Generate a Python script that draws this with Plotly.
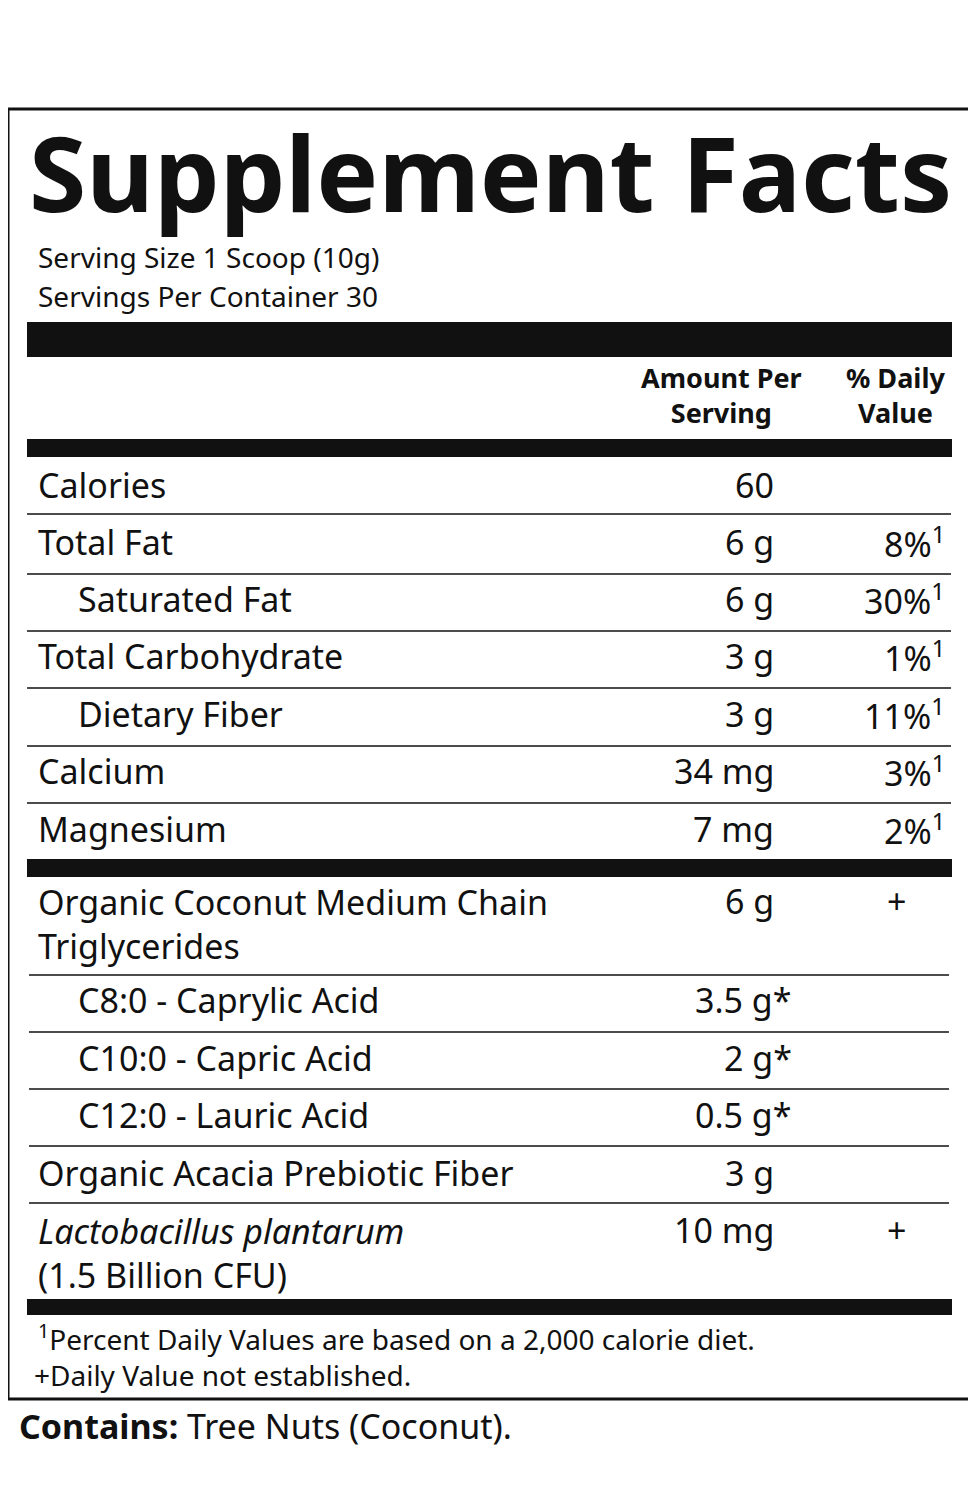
import plotly.graph_objects as go

# ---- data ----
nutrients = ["Calories", "Total Fat", "Saturated Fat", "Total Carbohydrate", "Dietary Fiber", "Calcium", "Magnesium"]
nutrient_amounts = ["60", "6 g", "6 g", "3 g", "3 g", "34 mg", "7 mg"]
nutrient_dv = ["", "8%", "30%", "1%", "11%", "3%", "2%"]
nutrient_indent = [False, False, True, False, True, False, False]

other = ["Organic Coconut Medium Chain<br>Triglycerides", "C8:0 - Caprylic Acid", "C10:0 - Capric Acid",
         "C12:0 - Lauric Acid", "Organic Acacia Prebiotic Fiber", "<i>Lactobacillus plantarum</i><br>(1.5 Billion CFU)"]
other_amounts = ["6 g", "3.5 g*", "2 g*", "0.5 g*", "3 g", "10 mg"]
other_dv = ["+", "", "", "", "", "+"]
other_indent = [False, True, True, True, False, False]

# ---- layout positions ----
F = "Noto Sans"
OFF = 9
nut_y = [486, 543, 600, 657, 715, 772, 830]
nut_lines = [515, 575, 632, 689, 747, 804]
oth_y = [902, 1001, 1059, 1116, 1174, 1231]
oth_lines = [976, 1033, 1090, 1147, 1204]

ann = []
shapes = []

def text(x, y, t, size, xa="left", ya="middle", bold=False, color="#111"):
    if bold:
        t = "<b>" + t + "</b>"
    ann.append(dict(x=x, y=y, text=t, showarrow=False, xanchor=xa, yanchor=ya, align=xa if xa != "right" else "right",
                    font=dict(family=F, size=size, color=color), xref="x", yref="y"))

def rect(x0, y0, x1, y1):
    shapes.append(dict(type="rect", x0=x0, x1=x1, y0=y0, y1=y1, fillcolor="#111", line_width=0, xref="x", yref="y"))

def hline(y, x0=28, x1=952):
    shapes.append(dict(type="line", x0=x0, x1=x1, y0=y, y1=y, line=dict(color="#111", width=1.5), xref="x", yref="y"))

text(8, 24, "<b>Suggested Use:</b> Add to food or beverage", 37)
text(8, 72, "(scoop included).", 37)
shapes.append(dict(type="rect", x0=9, x1=971, y0=110, y1=1400, line=dict(color="#111", width=3), xref="x", yref="y"))
text(28, 172, "Supplement Facts", 104, bold=True)
text(37, 258, "Serving Size 1 Scoop (10g)", 28)
text(37, 297, "Servings Per Container 30", 28)
rect(28, 323, 953, 358)
text(722, 396, "Amount Per<br>Serving", 27, xa="center", bold=True)
text(896, 396, "% Daily<br>Value", 27, xa="center", bold=True)
rect(28, 440, 953, 458)

for i, n in enumerate(nutrients):
    y = nut_y[i]
    text(77 if nutrient_indent[i] else 37, y, n, 34)
    text(777, y, nutrient_amounts[i], 34, xa="right")
    if nutrient_dv[i]:
        text(948, y, nutrient_dv[i] + "<sup>1</sup>", 34, xa="right")
for y in nut_lines:
    hline(y)
rect(28, 860, 953, 878)

for i, n in enumerate(other):
    y = oth_y[i]
    multi = "<br>" in n
    ya = "top" if multi else "middle"
    ty = y - 24 if multi else y
    text(77 if other_indent[i] else 37, ty, n, 34, ya=ya)
    amt = other_amounts[i]
    xr = 795 if amt.endswith("*") else 777
    text(xr, y, amt, 34, xa="right")
    if other_dv[i]:
        text(897, y, other_dv[i], 34, xa="center")
for y in oth_lines:
    hline(y, 30, 950)
rect(28, 1300, 953, 1316)

text(37, 1338, "<sup>1</sup>Percent Daily Values are based on a 2,000 calorie diet.", 28)
text(33, 1376, "+Daily Value not established.", 28)
text(18, 1427, "<b>Contains:</b> Tree Nuts (Coconut).", 34)
text(2, 1476, "*Naturally occurring.", 34)

fig = go.Figure()
fig.update_layout(width=976, height=1500, margin=dict(l=0, r=0, t=0, b=0),
                  paper_bgcolor="white", plot_bgcolor="white",
                  xaxis=dict(range=[OFF, 976 + OFF], visible=False, fixedrange=True),
                  yaxis=dict(range=[1500 + OFF, OFF], visible=False, fixedrange=True),
                  annotations=ann, shapes=shapes, showlegend=False)
fig.write_html("out.html")
